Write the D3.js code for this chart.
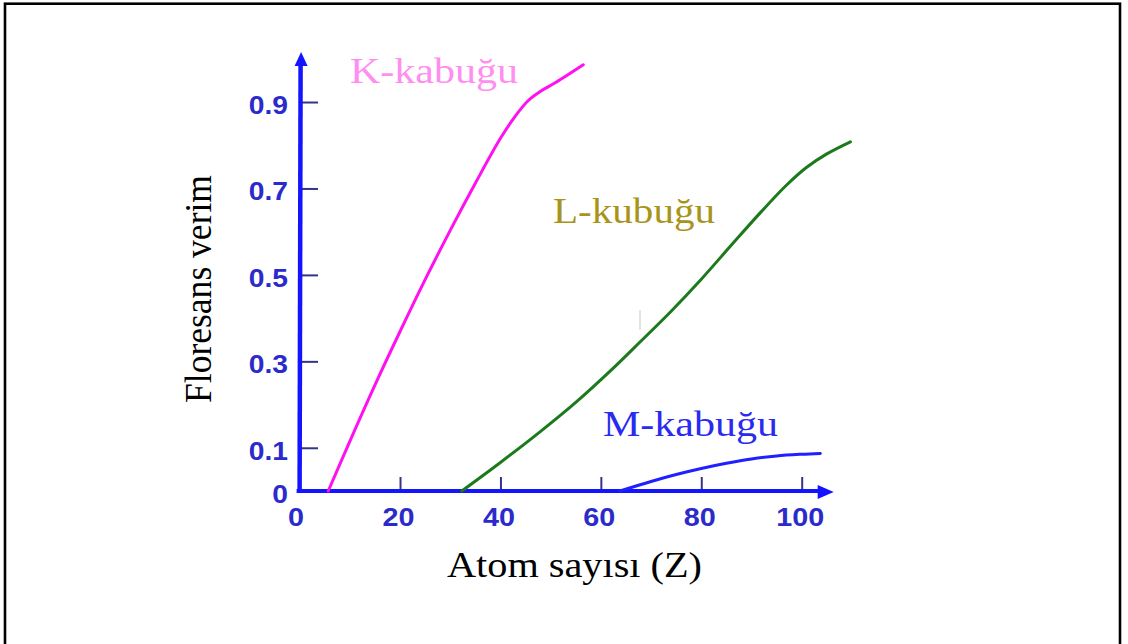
<!DOCTYPE html>
<html>
<head>
<meta charset="utf-8">
<script src="https://cdn.jsdelivr.net/npm/d3@7"></script>
<style>
  html, body { margin: 0; padding: 0; background: #fff; }
  svg { display: block; }
</style>
</head>
<body>
<svg id="chart" width="1128" height="644"></svg>
<script>
// ---- data ----
const xTickValues = [0, 20, 40, 60, 80, 100];
const yTickValues = [0, 0.1, 0.3, 0.5, 0.7, 0.9];
const yTickLabels = ["0", "0.1", "0.3", "0.5", "0.7", "0.9"];

const kZ = [5.7, 10, 15, 20, 25, 30, 35, 40, 43, 45.5, 48, 51, 56.5];
const kY = [0, 0.115, 0.245, 0.369, 0.489, 0.603, 0.712, 0.816, 0.868, 0.903, 0.925, 0.945, 0.986];

const lZ = [32.3, 40, 48, 55, 62, 68, 74, 80, 86, 92, 97, 101, 105, 109.7];
const lY = [0, 0.066, 0.138, 0.205, 0.279, 0.347, 0.416, 0.49, 0.569, 0.647, 0.708, 0.749, 0.780, 0.808];

const mZ = [63.8, 70, 75, 80, 85, 90, 95, 100, 103.7];
const mY = [0, 0.022, 0.038, 0.052, 0.064, 0.074, 0.081, 0.085, 0.087];

const seriesNames = ["K-kabuğu", "L-kubuğu", "M-kabuğu"];
const xTitle = "Atom sayısı (Z)";
const yTitle = "Floresans verim";

// ---- drawing ----
const svg = d3.select("#chart");
const x = d3.scaleLinear().domain([0, 100]).range([299.6, 801.7]);
const y = d3.scaleLinear().domain([0, 1]).range([491, 58.8]);

// frame
svg.append("rect").attr("x", 5).attr("y", 3.7).attr("width", 1115).attr("height", 660)
  .attr("fill", "none").attr("stroke", "#000").attr("stroke-width", 2.6);

const axisBlue = "#1414ff";
const tickColor = "#34348a";
const labelBlue = "#2b2bcc";

// y axis ticks
const yAxis = d3.axisLeft(y).tickValues(yTickValues)
  .tickFormat((d, i) => yTickLabels[i]).tickSizeInner(-18).tickSizeOuter(0).tickPadding(0);
const gy = svg.append("g").attr("transform", `translate(${x(0) + 0.4},0)`).call(yAxis);
gy.select(".domain").remove();
gy.selectAll(".tick line").attr("stroke", tickColor).attr("stroke-width", 2);
gy.selectAll(".tick text")
  .attr("fill", labelBlue).attr("font-family", "Liberation Sans, Arial, sans-serif")
  .attr("font-weight", "bold").attr("font-size", 25)
  .attr("x", 0).attr("dy", null).attr("dominant-baseline", "central")
  .attr("transform", "translate(-12,3) scale(1.13,1)");

// x axis ticks
const xAxis = d3.axisBottom(x).tickValues(xTickValues)
  .tickFormat(d3.format("d")).tickSizeInner(-14).tickSizeOuter(0).tickPadding(17);
const gx = svg.append("g").attr("transform", `translate(0,${y(0)})`).call(xAxis);
gx.select(".domain").remove();
gx.selectAll(".tick line").attr("stroke", tickColor).attr("stroke-width", 2);
gx.selectAll(".tick text")
  .attr("fill", labelBlue).attr("font-family", "Liberation Sans, Arial, sans-serif")
  .attr("font-weight", "bold").attr("font-size", 25)
  .attr("transform", d => `translate(${d === 0 ? -4 : -2},0) scale(1.15,1)`)
  .attr("x", 0).attr("text-anchor", "middle");

// axis lines with arrows
const x0 = x(0), y0 = y(0);
svg.append("line").attr("x1", x0 - 3).attr("y1", y0).attr("x2", x(100) + 20).attr("y2", y0)
  .attr("stroke", axisBlue).attr("stroke-width", 4);
svg.append("path")
  .attr("d", `M${x(100) + 32},${y0 + 1} L${x(100) + 16},${y0 - 6} L${x(100) + 16},${y0 + 8} Z`)
  .attr("fill", axisBlue);
svg.append("line").attr("x1", x0).attr("y1", y0 + 2).attr("x2", x0 + 1).attr("y2", 62)
  .attr("stroke", axisBlue).attr("stroke-width", 4.5);
svg.append("path")
  .attr("d", `M${x0 + 1.5},52 L${x0 - 5},66 L${x0 + 8},66 Z`)
  .attr("fill", axisBlue);

// faint artifact mark
svg.append("line").attr("x1", 640).attr("x2", 640).attr("y1", 310).attr("y2", 330)
  .attr("stroke", "#c8d8c8").attr("stroke-width", 1.2);

// curves
const line = d3.line().x(d => x(d[0])).y(d => y(d[1])).curve(d3.curveCatmullRom.alpha(0.5));
const series = [
  { z: kZ, v: kY, color: "#ff10f0", w: 3 },
  { z: lZ, v: lY, color: "#1c7a1c", w: 3 },
  { z: mZ, v: mY, color: "#1f1fff", w: 3 }
];
series.forEach(s => {
  svg.append("path").datum(s.z.map((z, i) => [z, s.v[i]]))
    .attr("d", line).attr("fill", "none")
    .attr("stroke", s.color).attr("stroke-width", s.w).attr("stroke-linecap", "round");
});

// labels
const serif = "Liberation Serif, Times New Roman, serif";
function label(txt, xx, yy, len, color, size) {
  svg.append("text").attr("x", xx).attr("y", yy).text(txt)
    .attr("font-family", serif).attr("font-size", size).attr("fill", color)
    .attr("textLength", len).attr("lengthAdjust", "spacingAndGlyphs");
}
label(seriesNames[0], 350, 83, 168, "#ff8ef0", 35);
label(seriesNames[1], 553, 223, 162, "#a8941a", 35);
label(seriesNames[2], 603, 436, 175, "#2a2af0", 35);
label(xTitle, 447, 577, 255, "#000", 35);

svg.append("text").text(yTitle)
  .attr("transform", "translate(211,403) rotate(-90)")
  .attr("font-family", serif).attr("font-size", 38).attr("fill", "#000")
  .attr("textLength", 228).attr("lengthAdjust", "spacingAndGlyphs");
</script>
</body>
</html>
